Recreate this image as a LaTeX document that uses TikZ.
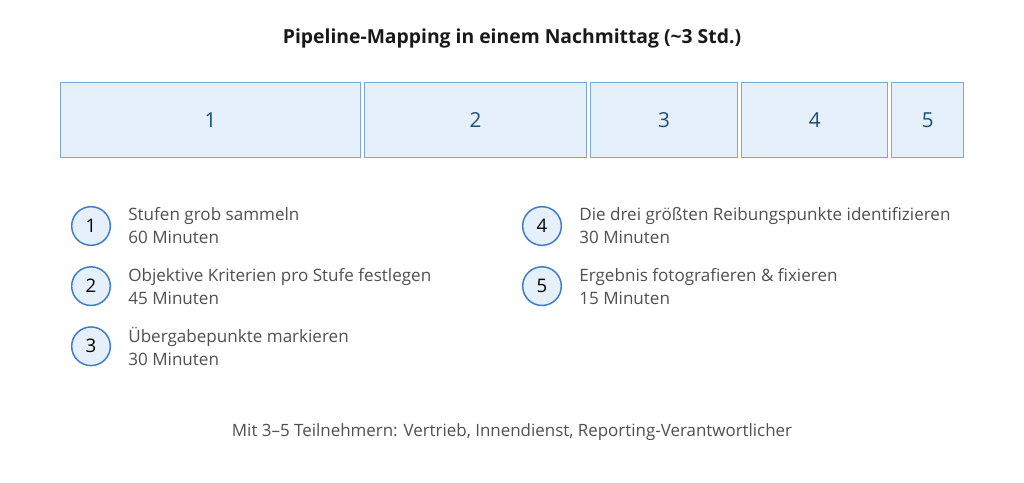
\documentclass[tikz,border=0pt]{standalone}
\usepackage{fontspec}
\setmainfont{Open Sans}
\usetikzlibrary{positioning}
\definecolor{stageFill}{HTML}{E6F0FB}
\definecolor{stageLine}{HTML}{7EA6D6}
\definecolor{stageText}{HTML}{1F4E79}
\definecolor{ringLine}{HTML}{3D7CC9}
\definecolor{bodyText}{HTML}{505050}
\tikzset{%
	% Specifications for style of nodes:
	stage/.style = {rectangle, draw=stageLine, fill=stageFill, line width=0.8pt,
		minimum height=56pt, inner sep=0pt,
		text=stageText, font=\fontsize{15.5}{18}\selectfont},
	ring/.style = {circle, draw=ringLine, fill=stageFill, line width=1.1pt,
		minimum size=29pt, inner sep=0pt, text=black,
		font=\fontsize{14}{16}\selectfont},
	task/.style = {align=left, inner sep=0pt, text=bodyText,
		font=\fontsize{12.8}{17.25}\selectfont}
}
\begin{document}
\begin{tikzpicture}[x=0.75pt, y=-0.75pt]
	\useasboundingbox[fill=white] (0,0) rectangle (1024,482);
	\node (title) [font=\fontsize{14.5}{17}\selectfont\bfseries, text=black!90] at (512,38) {Pipeline-Mapping in einem Nachmittag (\textasciitilde3 Std.)};
	\node (stage1) [stage, minimum width=225pt] at (210.5,120) {1};
	\node (stage2) [stage, minimum width=166.5pt, right=2.25pt of stage1] {2};
	\node (stage3) [stage, minimum width=110.25pt, right=2.25pt of stage2] {3};
	\node (stage4) [stage, minimum width=109.5pt, right=2.25pt of stage3] {4};
	\node (stage5) [stage, minimum width=54pt, right=2.25pt of stage4] {5};
	\node (num1) [ring] at (91,226) {1};
	\node (task1) [task, right=12.75pt of num1] {Stufen grob sammeln\\60 Minuten};
	\node (num2) [ring, below=15pt of num1] {2};
	\node (task2) [task, right=12.75pt of num2] {Objektive Kriterien pro Stufe festlegen\\45 Minuten};
	\node (num3) [ring, below=15pt of num2] {3};
	\node (task3) [task, right=12.75pt of num3] {Übergabepunkte markieren\\30 Minuten};
	\node (num4) [ring] at (542,226) {4};
	\node (task4) [task, right=12.75pt of num4] {Die drei größten Reibungspunkte identifizieren\\30 Minuten};
	\node (num5) [ring, below=15pt of num4] {5};
	\node (task5) [task, right=12.75pt of num5] {Ergebnis fotografieren \& fixieren\\15 Minuten};
	\node (note) [font=\fontsize{12.7}{15}\selectfont, text=bodyText] at (512,432) {Mit 3–5 Teilnehmern: Vertrieb, Innendienst, Reporting-Verantwortlicher};
\end{tikzpicture}
\end{document}
